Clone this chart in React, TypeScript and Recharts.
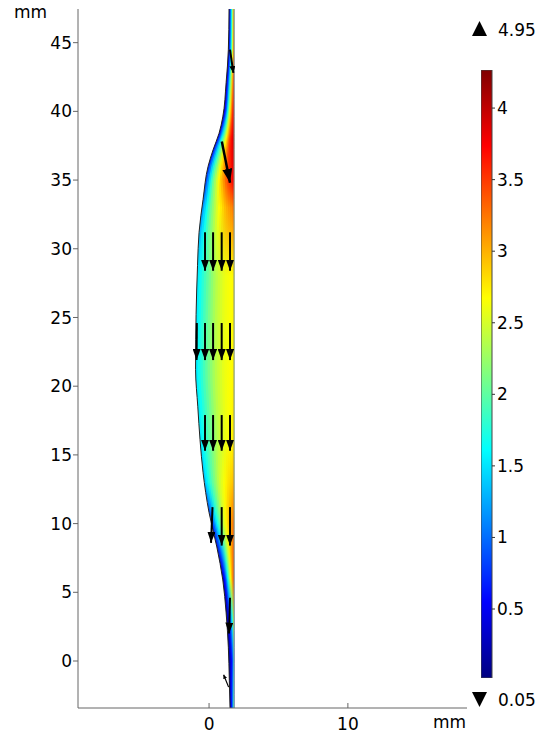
import React from 'react'
import {
  ComposedChart,
  Area,
  Line,
  XAxis,
  YAxis,
  ReferenceLine,
  ReferenceArea,
} from 'recharts'

// lens-shaped domain: left boundary (mm) at each height, right wall is straight
const SHAPE_Y = [-3.42, -1.4, 1.0, 3.5, 5.9, 8.3, 10.8, 13.7, 16.1, 18.5, 21.2, 23.4, 27.0, 28.8, 31.2, 33.6, 36.0, 37.2, 38.4, 39.6, 42.1, 44.5, 47.45]
const SHAPE_LEFT = [1.51, 1.46, 1.39, 1.23, 0.99, 0.56, 0.0, -0.43, -0.65, -0.81, -0.97, -0.96, -0.89, -0.83, -0.72, -0.43, -0.07, 0.29, 0.72, 0.99, 1.23, 1.39, 1.44]
const SHAPE_RIGHT = 1.8

// colour field: value at fractions across the width, per height
const FIELD_Y = [47.45, 44, 40, 38, 35, 33, 28, 22, 16, 13, 10, 6, 3, 0, -3.42]
const FIELD_FRAC = [0, 0.25, 0.5, 0.75, 1]
const FIELD_V = [
  [0.4, 0.9, 1.5, 2.4, 3.2],
  [0.3, 0.8, 1.6, 2.6, 3.5],
  [0.2, 1.0, 2.2, 3.2, 3.9],
  [0.4, 1.6, 2.6, 3.5, 4.0],
  [0.7, 2.0, 2.8, 3.4, 3.8],
  [1.1, 2.0, 2.6, 3.0, 3.25],
  [1.5, 1.95, 2.35, 2.6, 2.7],
  [1.5, 1.95, 2.35, 2.6, 2.7],
  [1.5, 1.95, 2.35, 2.6, 2.75],
  [1.3, 1.95, 2.45, 2.75, 2.95],
  [0.6, 1.6, 2.4, 2.9, 3.3],
  [0.2, 0.8, 1.8, 2.8, 3.5],
  [0.1, 0.4, 0.9, 1.6, 2.6],
  [0.1, 0.3, 0.5, 0.9, 1.6],
  [0.2, 0.4, 0.8, 1.3, 2.0],
]

// arrows: tail -> tip (mm), head size
const ARROW_X0 = [-0.29, 0.29, 0.91, 1.51, -0.88, -0.29, 0.29, 0.91, 1.51, -0.29, 0.29, 0.91, 1.51, 0.25, 0.91, 1.51, 1.51, 1.41, 1.51, 0.92]
const ARROW_Y0 = [31.2, 31.2, 31.2, 31.2, 24.6, 24.6, 24.6, 24.6, 24.6, 17.9, 17.9, 17.9, 17.9, 11.2, 11.2, 11.2, 4.6, -1.9, 44.5, 37.8]
const ARROW_X1 = [-0.29, 0.29, 0.91, 1.51, -0.9, -0.29, 0.29, 0.91, 1.51, -0.29, 0.29, 0.91, 1.51, 0.14, 0.91, 1.51, 1.44, 1.05, 1.75, 1.51]
const ARROW_Y1 = [28.4, 28.4, 28.4, 28.4, 21.9, 21.9, 21.9, 21.9, 21.9, 15.3, 15.3, 15.3, 15.3, 8.6, 8.4, 8.4, 2.0, -1.0, 42.8, 34.8]
const ARROW_HEAD = ['m', 'm', 'm', 'm', 'm', 'm', 'm', 'm', 'm', 'm', 'm', 'm', 'm', 'm', 'm', 'm', 'm', 'xs', 's', 'l']

const Y_TICKS = [0, 5, 10, 15, 20, 25, 30, 35, 40, 45]
const Y_TICKS_RIGHT = [-0.55, 4.45, 9.45, 14.45, 19.45, 24.45, 29.45, 34.45, 39.45, 44.45]
const X_TICKS = [0, 10]
const X_DOMAIN = [-9.44, 18.58]
const Y_DOMAIN = [-3.42, 47.45]

const CB_MIN = 0.018
const CB_MAX = 4.266
const CB_TICKS = [0.5, 1, 1.5, 2, 2.5, 3, 3.5, 4]
const CB_MAX_LABEL = '4.95'
const CB_MIN_LABEL = '0.05'

const FONT = '"DejaVu Sans", sans-serif'
const N_BANDS = 16

function jet(v: number) {
  const t = Math.max(0, Math.min(1, (v - CB_MIN) / (CB_MAX - CB_MIN)))
  const c = (k: number) => Math.round(255 * Math.max(0, Math.min(1, 1.5 - Math.abs(4 * t - k))))
  return `rgb(${c(3)},${c(2)},${c(1)})`
}

function fieldAt(row: number[], f: number) {
  for (let i = 0; i < FIELD_FRAC.length - 1; i++) {
    const a = FIELD_FRAC[i]
    const b = FIELD_FRAC[i + 1]
    if (f <= b) return row[i] + ((f - a) / (b - a)) * (row[i + 1] - row[i])
  }
  return row[row.length - 1]
}

const shapeData = SHAPE_Y.map((y, i) => ({ y, left: SHAPE_LEFT[i] }))
const arrows = ARROW_X0.map((x0, i) => ({
  x0,
  y0: ARROW_Y0[i],
  x1: ARROW_X1[i],
  y1: ARROW_Y1[i],
  head: ARROW_HEAD[i],
}))
const cbData = [{ x: 0, v: CB_MIN }, { x: 1, v: CB_MAX }]

const HEADS: Record<string, [number, number]> = { xs: [4, 4], s: [7, 6], m: [11, 8], l: [14, 10] }

export default function App() {
  const yTop = Y_DOMAIN[1]
  const ySpan = Y_DOMAIN[1] - Y_DOMAIN[0]
  return (
    <div style={{ position: 'fixed', left: 0, top: 0, width: 543, height: 736, background: '#fff', fontFamily: FONT }}>
      <ComposedChart
        width={543}
        height={736}
        layout="vertical"
        data={shapeData}
        margin={{ top: 9, right: 76, bottom: 0, left: 18 }}
      >
        <defs>
          {Array.from({ length: N_BANDS }, (_, k) => {
            const fc = (k + 0.5) / N_BANDS
            return (
              <linearGradient key={k} id={`band${k}`} x1="0" y1="0" x2="0" y2="1">
                {FIELD_Y.map((fy, j) => (
                  <stop key={j} offset={(yTop - fy) / ySpan} stopColor={jet(fieldAt(FIELD_V[j], fc))} />
                ))}
              </linearGradient>
            )
          })}
          {Object.entries(HEADS).map(([name, [len, wid]]) => (
            <marker
              key={name}
              id={`head-${name}`}
              viewBox="0 0 10 10"
              refX={10}
              refY={5}
              markerWidth={len}
              markerHeight={wid}
              markerUnits="userSpaceOnUse"
              orient="auto"
              preserveAspectRatio="none"
            >
              <path d="M0,0 L10,5 L0,10 z" fill="#000" />
            </marker>
          ))}
        </defs>
        <XAxis
          type="number"
          domain={X_DOMAIN}
          allowDataOverflow
          ticks={X_TICKS}
          tickSize={-5}
          tickMargin={15}
          height={28}
          tick={{ fontSize: 17, fill: '#000', fontFamily: FONT }}
          axisLine={{ stroke: '#666' }}
          tickLine={{ stroke: '#666' }}
        />
        <XAxis
          xAxisId="top"
          orientation="top"
          type="number"
          domain={X_DOMAIN}
          allowDataOverflow
          height={0}
          tick={false}
          tickLine={false}
          axisLine={{ stroke: '#666' }}
        />
        <YAxis
          type="number"
          dataKey="y"
          domain={Y_DOMAIN}
          allowDataOverflow
          reversed
          ticks={Y_TICKS}
          width={60}
          tickSize={5}
          tickMargin={1}
          tick={{ fontSize: 17, fill: '#000', fontFamily: FONT }}
          axisLine={{ stroke: '#666' }}
          tickLine={{ stroke: '#666' }}
        />
        <YAxis
          yAxisId="r"
          orientation="right"
          type="number"
          domain={Y_DOMAIN}
          allowDataOverflow
          reversed
          ticks={Y_TICKS_RIGHT}
          width={0}
          tickSize={-5}
          tickFormatter={() => ''}
          axisLine={{ stroke: '#666' }}
          tickLine={{ stroke: '#666' }}
        />
        {Array.from({ length: N_BANDS }, (_, k) => (
          <Area
            key={k}
            type="monotone"
            dataKey={(d: { left: number }) => [d.left + (k / N_BANDS) * (SHAPE_RIGHT - d.left), SHAPE_RIGHT]}
            fill={`url(#band${k})`}
            fillOpacity={1}
            stroke="none"
            isAnimationActive={false}
          />
        ))}
        <Line type="monotone" dataKey="left" stroke="#222" strokeWidth={1} dot={false} isAnimationActive={false} />
        <ReferenceLine
          segment={[{ x: SHAPE_RIGHT, y: Y_DOMAIN[0] }, { x: SHAPE_RIGHT, y: Y_DOMAIN[1] }]}
          stroke="#888"
          strokeWidth={1}
        />
        {arrows.map((a, i) => (
          <ReferenceLine
            key={i}
            segment={[{ x: a.x0, y: a.y0 }, { x: a.x1, y: a.y1 }]}
            stroke="#000"
            strokeWidth={a.head === 'xs' ? 1.2 : a.head === 'l' ? 2.5 : 2}
            markerEnd={`url(#head-${a.head})`}
          />
        ))}
      </ComposedChart>

      <div style={{ position: 'absolute', left: 481, top: 70 }}>
        <ComposedChart width={62} height={608} data={cbData} margin={{ top: 0, right: 0, bottom: 0, left: 0 }}>
          <defs>
            <linearGradient id="jetbar" x1="0" y1="1" x2="0" y2="0">
              {Array.from({ length: 9 }, (_, i) => (
                <stop key={i} offset={i / 8} stopColor={jet(CB_MIN + (i / 8) * (CB_MAX - CB_MIN))} />
              ))}
            </linearGradient>
          </defs>
          <XAxis type="number" dataKey="x" domain={[0, 1]} height={0} tick={false} tickLine={false} axisLine={false} />
          <YAxis
            type="number"
            orientation="right"
            domain={[CB_MIN, CB_MAX]}
            ticks={CB_TICKS}
            width={51}
            tickSize={3}
            tickMargin={2}
            axisLine={false}
            tick={{ fontSize: 17, fill: '#000', fontFamily: FONT }}
            tickLine={{ stroke: '#333' }}
          />
          <Line dataKey="v" stroke="none" dot={false} isAnimationActive={false} />
          <ReferenceArea x1={0} x2={1} y1={CB_MIN} y2={CB_MAX} fill="url(#jetbar)" fillOpacity={1} stroke="#444" strokeWidth={1} />
        </ComposedChart>
      </div>

      <svg width={543} height={736} style={{ position: 'absolute', left: 0, top: 0, pointerEvents: 'none' }}>
        <text x={14} y={18} fontSize={17} fontFamily={FONT} fill="#000">mm</text>
        <text x={466} y={728} fontSize={17} fontFamily={FONT} fill="#000" textAnchor="end">mm</text>
        <polygon points="472,36 479.5,21 487,36" fill="#000" />
        <text x={498} y={36} fontSize={17} fontFamily={FONT} fill="#000">{CB_MAX_LABEL}</text>
        <polygon points="472,692 487,692 479.5,707" fill="#000" />
        <text x={498} y={706} fontSize={17} fontFamily={FONT} fill="#000">{CB_MIN_LABEL}</text>
      </svg>
    </div>
  )
}
